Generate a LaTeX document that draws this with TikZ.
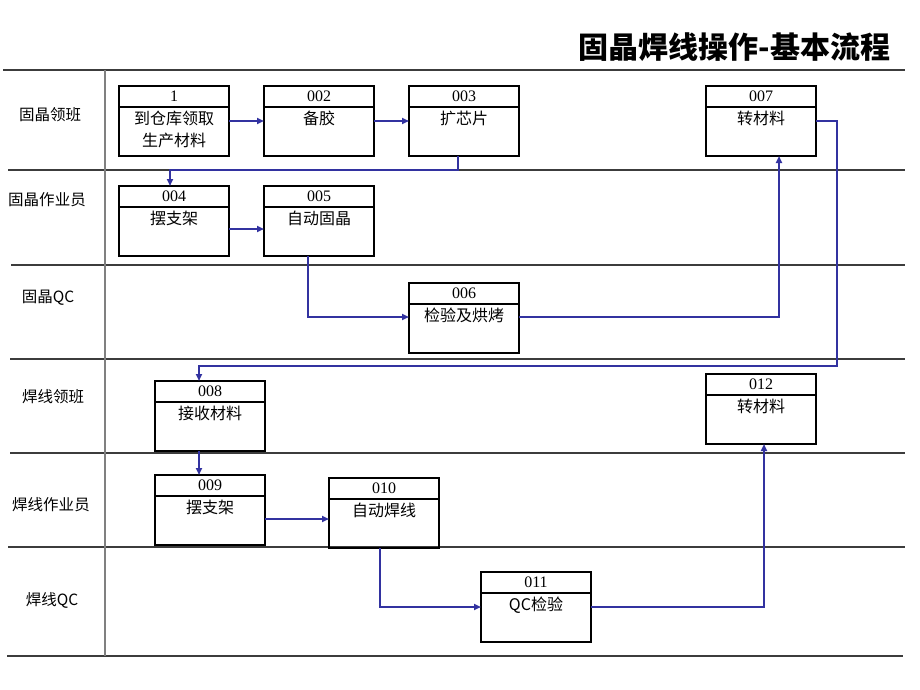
\documentclass[tikz,border=0pt]{standalone}
\usepackage{fontspec}
\setmainfont{Liberation Serif}
\newfontfamily\cjk{Noto Sans CJK SC}
\usepackage{tikz}
\usetikzlibrary{positioning,arrows.meta}

\definecolor{flowblue}{RGB}{50,50,160}
\definecolor{lanegray}{RGB}{60,60,60}

\tikzset{
	stepbox/.style={draw,line width=2pt,minimum width=110pt,minimum height=70pt,inner sep=0pt,outer sep=0pt},
	stephead/.style={draw,line width=1.3pt,minimum width=110pt,minimum height=21pt,inner sep=0pt,outer sep=0pt,anchor=north,font=\fontsize{16}{18}\selectfont},
	steptext/.style={anchor=north,inner sep=3.5pt,align=center,font=\cjk\fontsize{16}{22}\selectfont},
	lanename/.style={font=\cjk\fontsize{15.5}{18}\selectfont},
	laneline/.style={draw=lanegray,line width=1.4pt},
	flow/.style={draw=flowblue,line width=1.7pt,-{Triangle[length=7pt,width=6pt]}}
}

\begin{document}
\begin{tikzpicture}[x=1pt,y=-1pt]
\useasboundingbox (0,0) rectangle (920,690);

%Title
\node[anchor=east,font=\cjk\bfseries\fontsize{30}{36}\selectfont] (title) at (894,47) {固晶焊线操作-基本流程};

%Lanes
\draw[laneline] (3,70) -- (905,70);
\draw[laneline] (8,170) -- (905,170);
\draw[laneline] (11,265) -- (905,265);
\draw[laneline] (10,359) -- (905,359);
\draw[laneline] (10,453) -- (905,453);
\draw[laneline] (8,547) -- (905,547);
\draw[laneline] (7,656) -- (903,656);
\draw[draw=gray,line width=1.4pt] (105,70) -- (105,656);

\begin{scope}[every node/.style={lanename}]
	\node (l1) at (50,115) {固晶领班};
	\node (l2) at (47,200) {固晶作业员};
	\node (l3) at (48,298) {固晶QC};
	\node (l4) at (53,397) {焊线领班};
	\node (l5) at (51,505) {焊线作业员};
	\node (l6) at (52,600) {焊线QC};
\end{scope}

%Lane 1
\node[stepbox] (p001) at (174,121) {};
\node[stephead] (h001) at (p001.north) {1};
\node[steptext,below=0pt of h001] (t001) {到仓库领取\\生产材料};

\node[stepbox] (p002) at (319,121) {};
\node[stephead] (h002) at (p002.north) {002};
\node[steptext,below=0pt of h002] (t002) {备胶};

\node[stepbox] (p003) at (464,121) {};
\node[stephead] (h003) at (p003.north) {003};
\node[steptext,below=0pt of h003] (t003) {扩芯片};

\node[stepbox] (p007) at (761,121) {};
\node[stephead] (h007) at (p007.north) {007};
\node[steptext,below=0pt of h007] (t007) {转材料};

%Lane 2
\node[stepbox] (p004) at (174,221) {};
\node[stephead] (h004) at (p004.north) {004};
\node[steptext,below=0pt of h004] (t004) {摆支架};

\node[stepbox] (p005) at (319,221) {};
\node[stephead] (h005) at (p005.north) {005};
\node[steptext,below=0pt of h005] (t005) {自动固晶};

%Lane 3
\node[stepbox] (p006) at (464,318) {};
\node[stephead] (h006) at (p006.north) {006};
\node[steptext,below=0pt of h006] (t006) {检验及烘烤};

%Lane 4
\node[stepbox] (p008) at (210,416) {};
\node[stephead] (h008) at (p008.north) {008};
\node[steptext,below=0pt of h008] (t008) {接收材料};

\node[stepbox] (p012) at (761,409) {};
\node[stephead] (h012) at (p012.north) {012};
\node[steptext,below=0pt of h012] (t012) {转材料};

%Lane 5
\node[stepbox] (p009) at (210,510) {};
\node[stephead] (h009) at (p009.north) {009};
\node[steptext,below=0pt of h009] (t009) {摆支架};

\node[stepbox] (p010) at (384,513) {};
\node[stephead] (h010) at (p010.north) {010};
\node[steptext,below=0pt of h010] (t010) {自动焊线};

%Lane 6
\node[stepbox] (p011) at (536,607) {};
\node[stephead] (h011) at (p011.north) {011};
\node[steptext,below=0pt of h011] (t011) {QC检验};

%Bends
\coordinate (c34) at (170,170);
\coordinate (c78) at (837,366);

\begin{scope}[every path/.style={flow}]
	\draw (p001.east) -- (p002.west);
	\draw (p002.east) -- (p003.west);
	\draw ([xshift=-6pt]p003.south) |- (c34) -- (c34 |- p004.north);
	\draw ([yshift=-8pt]p004.east) -- ([yshift=-8pt]p005.west);
	\draw ([xshift=-11pt]p005.south) |- ([yshift=1pt]p006.west);
	\draw ([yshift=1pt]p006.east) -| ([xshift=18pt]p007.south);
	\draw (p007.east) -| (c78) -| ([xshift=-11pt]p008.north);
	\draw ([xshift=-11pt]p008.south) -- ([xshift=-11pt]p009.north);
	\draw ([yshift=-9pt]p009.east) -- ([yshift=-6pt]p010.west);
	\draw ([xshift=-4pt]p010.south) |- (p011.west);
	\draw (p011.east) -| ([xshift=3pt]p012.south);
\end{scope}

\end{tikzpicture}
\end{document}
